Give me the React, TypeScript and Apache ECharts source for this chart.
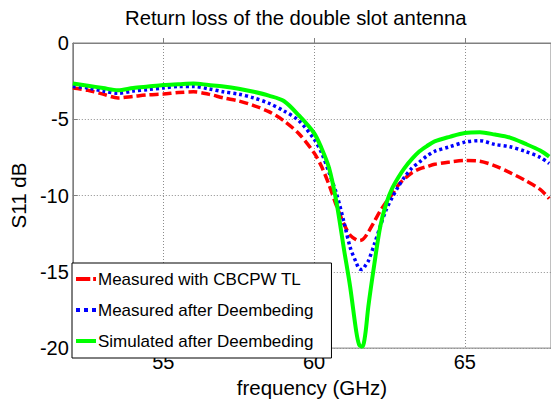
import React, { useEffect, useRef } from "react";
import * as echarts from "echarts";

const freq = [52, 52.5, 53, 53.5, 54, 54.5, 55, 55.5, 56, 56.5, 57, 57.5, 58, 58.5, 59, 59.5, 60, 60.25, 60.5, 60.75, 61, 61.2, 61.4, 61.5, 61.6, 61.7, 61.8, 62, 62.2, 62.4, 62.6, 62.8, 63, 63.25, 63.5, 63.75, 64, 64.5, 65, 65.5, 66, 66.5, 67, 67.5, 67.8];

const measuredCBCPW = [-2.95, -3.1, -3.35, -3.6, -3.5, -3.4, -3.35, -3.25, -3.2, -3.35, -3.6, -3.8, -4.1, -4.5, -5.1, -5.95, -7.2, -8.1, -9.3, -10.7, -11.9, -12.6, -12.9, -12.95, -12.9, -12.7, -12.4, -11.7, -11.0, -10.4, -9.9, -9.3, -8.9, -8.5, -8.25, -8.1, -7.95, -7.8, -7.7, -7.75, -8.05, -8.5, -9.0, -9.6, -10.2];

const measuredDeemb = [-2.85, -2.95, -3.15, -3.3, -3.15, -3.05, -2.95, -2.85, -2.85, -3.0, -3.2, -3.35, -3.6, -3.95, -4.45, -5.1, -6.3, -7.2, -8.5, -9.9, -11.8, -13.4, -14.4, -14.8, -14.85, -14.6, -14.3, -13.2, -12.0, -10.9, -10.1, -9.4, -8.8, -8.2, -7.8, -7.4, -7.1, -6.8, -6.5, -6.4, -6.65, -6.8, -7.1, -7.5, -7.9];

const simulatedDeemb = [-2.65, -2.8, -2.95, -3.1, -2.95, -2.85, -2.75, -2.7, -2.65, -2.75, -2.85, -3.0, -3.2, -3.45, -3.8, -4.75, -5.9, -6.9, -8.2, -10.5, -13.6, -16.0, -18.9, -19.8, -19.9, -19.1, -17.3, -14.5, -12.0, -10.5, -9.5, -8.8, -8.2, -7.6, -7.1, -6.75, -6.45, -6.15, -5.9, -5.85, -6.0, -6.2, -6.6, -7.05, -7.45];

const xTicks = [55, 60, 65];
const seriesNames = ["Measured with CBCPW TL", "Measured after Deembeding", "Simulated after Deembeding"];

const FONT = "Liberation Sans, Arial, sans-serif";

const ICON_DASH = "path://M0,0h15v4h-15z M18,0h3v4h-3z";
const ICON_DOT = "path://M0,0h4v4h-4z M8,0h4v4h-4z M16,0h4v4h-4z";
const ICON_SOLID = "path://M0,0h20v4h-20z";

export default function App() {
  const ref = useRef<HTMLDivElement>(null);
  useEffect(() => {
    if (!ref.current) return;
    const chart = echarts.init(ref.current, undefined, { renderer: "svg" });
    const pair = (ys: number[]) => freq.map((f, i) => [f, ys[i]]);
    chart.setOption({
      animation: false,
      backgroundColor: "#ffffff",
      textStyle: { fontFamily: FONT },
      title: {
        text: "Return loss of the double slot antenna",
        left: 125,
        top: 8,
        padding: 0,
        textStyle: { fontFamily: FONT, fontSize: 20.3, fontWeight: "normal", color: "#000" },
      },
      grid: {
        left: 72,
        top: 43,
        right: -2,
        bottom: 45,
        show: true,
        borderColor: "#808080",
        borderWidth: 1,
        backgroundColor: "transparent",
      },
      legend: {
        orient: "vertical",
        left: 72,
        top: 263,
        itemWidth: 20,
        itemHeight: 4,
        itemGap: 13,
        padding: [7, 18, 8, 4],
        backgroundColor: "#ffffff",
        borderColor: "#000000",
        borderWidth: 1,
        borderRadius: 0,
        textStyle: { fontFamily: FONT, fontSize: 17, color: "#000", lineHeight: 18, padding: [0, 0, 0, -3] },
        data: [
          { name: seriesNames[0], icon: ICON_DASH },
          { name: seriesNames[1], icon: ICON_DOT },
          { name: seriesNames[2], icon: ICON_SOLID },
        ],
      },
      xAxis: {
        type: "value",
        min: 52,
        max: 67.86,
        name: "frequency (GHz)",
        nameLocation: "middle",
        nameGap: 21,
        nameTextStyle: { fontFamily: FONT, fontSize: 20.5, color: "#000" },
        axisLine: { show: true, lineStyle: { color: "#808080", width: 1 } },
        axisTick: { show: true, inside: true, length: 5, customValues: xTicks, lineStyle: { color: "#808080" } },
        axisLabel: { customValues: xTicks, fontFamily: FONT, fontSize: 20, color: "#000", margin: 4 },
        splitLine: { show: true, lineStyle: { color: "#8c8c8c", type: [1, 2], width: 1 } },
      },
      yAxis: {
        type: "value",
        min: -20,
        max: 0,
        interval: 5,
        name: "S11 dB",
        nameLocation: "middle",
        nameGap: 38,
        nameTextStyle: { fontFamily: FONT, fontSize: 20.5, color: "#000" },
        axisLine: { show: true, lineStyle: { color: "#808080", width: 1 } },
        axisTick: { show: true, inside: true, length: 5, lineStyle: { color: "#808080" } },
        axisLabel: { fontFamily: FONT, fontSize: 20, color: "#000", margin: 4 },
        splitLine: { show: true, lineStyle: { color: "#8c8c8c", type: [1, 2], width: 1 } },
      },
      series: [
        {
          name: seriesNames[0],
          type: "line",
          data: pair(measuredCBCPW),
          showSymbol: false,
          symbol: "none",
          smooth: 0.3,
          lineStyle: { color: "#ff0000", width: 3.5, type: [9, 4] },
          itemStyle: { color: "#ff0000" },
        },
        {
          name: seriesNames[1],
          type: "line",
          data: pair(measuredDeemb),
          showSymbol: false,
          symbol: "none",
          smooth: 0.3,
          lineStyle: { color: "#0000ff", width: 3.5, type: [3, 3] },
          itemStyle: { color: "#0000ff" },
        },
        {
          name: seriesNames[2],
          type: "line",
          data: pair(simulatedDeemb),
          showSymbol: false,
          symbol: "none",
          smooth: 0.3,
          lineStyle: { color: "#00ff00", width: 4, type: "solid" },
          itemStyle: { color: "#00ff00" },
        },
      ],
    });
    return () => chart.dispose();
  }, []);
  return <div ref={ref} style={{ width: 551, height: 403, position: "absolute", left: 0, top: 0 }} />;
}
